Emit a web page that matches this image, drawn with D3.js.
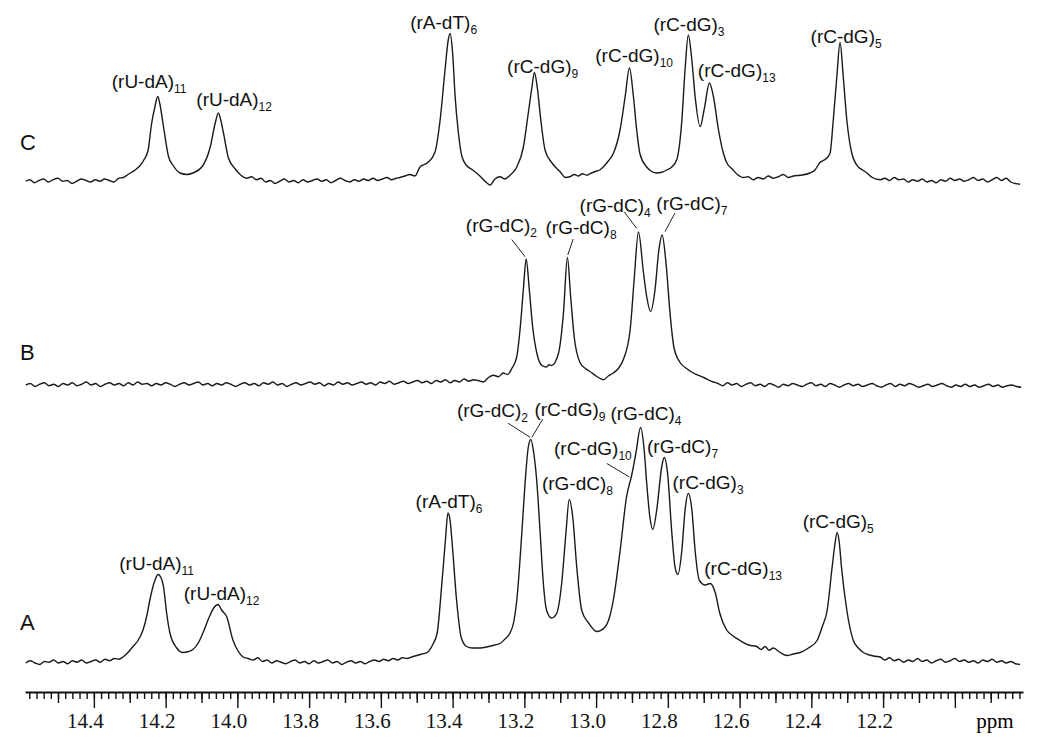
<!DOCTYPE html>
<html>
<head>
<meta charset="utf-8">
<script src="https://cdn.jsdelivr.net/npm/d3@7.9.0/dist/d3.min.js"></script>
<style>
  body { margin: 0; background: #fff; }
  svg { display: block; }
  .trace { fill: none; stroke: #1a1a1a; stroke-width: 1.4; stroke-linejoin: round; }
  .peak { font-family: "Liberation Sans", Arial, sans-serif; font-size: 19px; fill: #111; }
  .panel { font-family: "Liberation Sans", Arial, sans-serif; font-size: 22px; fill: #111; }
  .leader { stroke: #222; stroke-width: 1; }
  .axis text { font-family: "Liberation Serif", "Times New Roman", serif; font-size: 21px; fill: #111; }
  .axis line { stroke: #111; stroke-width: 1.4; }
  .axis path { stroke: #111; stroke-width: 2; }
</style>
</head>
<body>
<svg width="1050" height="750"></svg>
<script>
// spectra: [ppm, intensity (a.u.)]
const specC = [[14.590,0.5],[14.578,1.5],[14.566,-0.5],[14.553,1],[14.540,2],[14.527,0],[14.514,1.5],[14.500,2.5],[14.487,0.5],[14.474,1],[14.461,-1],[14.448,0.5],[14.435,2],[14.422,1],[14.409,0],[14.396,1.5],[14.383,0.5],[14.370,2],[14.357,1],[14.344,0],[14.331,2.5],[14.318,3],[14.305,5],[14.285,8],[14.271,11],[14.260,15],[14.249,21],[14.239,39],[14.230,50],[14.222,57],[14.216,52],[14.206,37],[14.192,17],[14.179,11],[14.160,6],[14.140,5],[14.124,6],[14.099,10],[14.076,23],[14.062,39],[14.053,46],[14.046,41],[14.039,33],[14.025,16],[14.007,9],[13.990,4.5],[13.974,2.5],
  [13.960,3.5],[13.947,1.5],[13.934,2.5],[13.921,0],[13.908,1],[13.895,-1],[13.882,0.5],[13.869,2],[13.856,0],[13.843,1],[13.830,-0.5],[13.817,1.5],[13.804,0],[13.791,1],[13.778,2],[13.765,0.5],[13.752,1.5],[13.739,-0.5],[13.726,1],[13.713,2.5],[13.700,1],[13.687,0],[13.674,1.5],[13.661,0.5],[13.648,2],[13.635,1],[13.622,2.5],[13.609,1],[13.596,2],[13.583,3],[13.570,1.5],[13.557,2.5],[13.547,3],[13.533,4],[13.519,5],[13.505,4],[13.491,10],[13.469,13],[13.449,20],[13.435,41],[13.421,75],[13.412,95],[13.407,99],[13.400,86],[13.393,57],[13.384,33],[13.374,17],[13.361,11],[13.344,8],[13.324,4],[13.305,-0.5],[13.296,-2],[13.282,2],[13.268,3.5],[13.254,2],[13.240,4.5],
  [13.221,10],[13.203,23],[13.189,46],[13.179,63],[13.172,73],[13.164,63],[13.154,41],[13.142,21],[13.124,13],[13.101,7],[13.085,3],[13.073,3.5],[13.060,5],[13.050,4],[13.038,5.5],[13.026,4.5],[13.013,6],[13.003,7],[12.990,8],[12.980,10],[12.966,14],[12.952,19],[12.933,35],[12.919,57],[12.907,76],[12.896,57],[12.887,35],[12.878,19],[12.859,10],[12.845,7],[12.831,6],[12.817,6.5],[12.803,8],[12.789,10],[12.775,15],[12.761,41],[12.752,75],[12.743,98],[12.733,81],[12.724,57],[12.710,37],[12.699,48],[12.684,66],[12.673,57],[12.659,35],[12.645,19],[12.634,12],[12.622,9],[12.606,5],[12.590,3],[12.576,3.5],[12.562,1.5],[12.548,3],[12.534,2],[12.520,4],[12.506,2.5],[12.492,3.5],[12.478,5],[12.464,3],[12.450,4],[12.431,4.5],[12.404,6],[12.390,8],[12.376,13],[12.362,15],[12.348,19],[12.339,41],[12.329,70],[12.320,93],[12.311,70],[12.301,41],[12.287,19],[12.269,10],[12.257,8],[12.245,6],[12.230,3],[12.208,1.5],
  [12.195,2.5],[12.182,1],[12.169,3],[12.156,1.5],[12.143,2],[12.130,0],[12.117,1.5],[12.104,0.5],[12.091,2],[12.078,0],[12.065,1],[12.052,-0.5],[12.039,1.5],[12.026,0.5],[12.013,2.5],[12.000,1],[11.987,2],[11.974,0.5],[11.961,1.5],[11.948,3],[11.935,1],[11.922,2],[11.909,0],[11.896,1.5],[11.883,3],[11.870,1],[11.857,2.5],[11.844,0],[11.831,-1],[11.818,-1.5]];

const specB = [[14.590,0],[14.577,1],[14.564,-1],[14.551,0.5],[14.538,1.5],[14.525,-0.5],[14.512,0.5],[14.499,-1],[14.486,1],[14.473,0],[14.460,1.5],[14.447,-0.5],[14.434,0.5],[14.421,2],[14.408,0],[14.395,1],[14.382,-1],[14.369,0.5],[14.356,1.5],[14.343,0],[14.330,1],[14.317,-0.5],[14.304,1.5],[14.291,0],[14.278,2],[14.265,0.5],[14.252,1],[14.239,-0.5],[14.226,1],[14.213,0],[14.200,1.5],[14.187,0.5],[14.174,-1],[14.161,0.5],[14.148,1.5],[14.135,0],[14.122,1],[14.109,2],[14.096,0],[14.083,1],[14.070,-0.5],[14.057,1],[14.044,0],[14.031,1.5],[14.018,0.5],[14.005,-1],[13.992,0.5],[13.979,1.5],[13.966,0],[13.953,1],[13.940,-0.5],[13.927,1.5],[13.914,0.5],[13.901,2],[13.888,0],[13.875,1],[13.862,-1],[13.849,0.5],[13.836,1.5],[13.823,0],[13.810,1],[13.797,2],[13.784,0.5],[13.771,1.5],[13.758,-0.5],[13.745,1],[13.732,0],[13.719,2],[13.706,0.5],[13.693,1.5],[13.680,0],[13.667,1],[13.654,2],[13.641,0.5],[13.628,1.5],[13.615,0],[13.602,2],[13.589,1],[13.576,2.5],[13.563,0.5],[13.550,1.5],[13.537,2.5],[13.524,1],[13.511,2],[13.498,3],[13.485,1.5],[13.472,2.5],[13.459,1],[13.446,3],[13.433,2],[13.420,3.5],[13.407,1.5],[13.394,3],[13.381,2],[13.368,4],[13.355,2.5],[13.342,3.5],[13.329,3],
  [13.314,2],[13.300,5],[13.286,6.5],[13.272,5.5],[13.259,8],[13.247,7],[13.235,11],[13.221,19],[13.212,37],[13.203,63],[13.195,84],[13.186,63],[13.177,39],[13.165,21],[13.151,13],[13.138,12],[13.131,13.5],[13.124,13],[13.105,21],[13.091,48],[13.080,85],[13.071,59],[13.061,32],[13.045,15],[13.030,11],[13.017,9],[13.000,6],[12.990,4.5],[12.980,3.5],[12.966,6],[12.952,8],[12.938,11],[12.924,17],[12.905,37],[12.894,70],[12.882,102],[12.868,75],[12.859,59],[12.848,49],[12.836,63],[12.825,90],[12.816,100],[12.805,81],[12.794,48],[12.783,25],[12.766,15],[12.748,11],[12.729,8],[12.700,5],[12.673,2],
  [12.660,1],[12.647,-0.5],[12.634,1.5],[12.621,0],[12.608,1],[12.595,-1],[12.582,0.5],[12.569,1.5],[12.556,-0.5],[12.543,0.5],[12.530,-1],[12.517,1],[12.504,0],[12.491,-1.5],[12.478,0.5],[12.465,-0.5],[12.452,1],[12.439,0],[12.426,-1],[12.413,0.5],[12.400,1.5],[12.387,-0.5],[12.374,0.5],[12.361,-1],[12.348,1],[12.335,0],[12.322,-1.5],[12.309,0],[12.296,1],[12.283,-0.5],[12.270,0.5],[12.257,-1],[12.244,0],[12.231,1],[12.218,-0.5],[12.205,-1.5],[12.192,0],[12.179,1],[12.166,-1],[12.153,0.5],[12.140,-0.5],[12.127,1],[12.114,0],[12.101,-1.5],[12.088,-0.5],[12.075,0.5],[12.062,-1],[12.049,0],[12.036,1],[12.023,-0.5],[12.010,-1.5],[11.997,0],[11.984,-1],[11.971,0.5],[11.958,-1],[11.945,0],[11.932,-1.5],[11.919,-0.5],[11.906,0.5],[11.893,-1],[11.880,0],[11.867,-1.5],[11.854,-0.5],[11.841,0],[11.828,-1],[11.815,-1.5]];

const specA = [[14.590,0],[14.577,1.5],[14.564,0],[14.551,-1],[14.538,1],[14.525,0.5],[14.512,2],[14.499,0],[14.486,1],[14.473,-0.5],[14.460,1.5],[14.447,0.5],[14.434,2],[14.421,0],[14.408,1],[14.395,2],[14.382,0.5],[14.369,2.5],[14.356,1.5],[14.343,3],[14.330,2.5],[14.319,4],[14.305,7],[14.291,11],[14.277,15],[14.263,22],[14.252,32],[14.244,42],[14.230,55],[14.221,59],[14.213,57],[14.206,51],[14.197,33],[14.188,20],[14.169,10],[14.152,7],[14.138,7.5],[14.124,9],[14.110,13],[14.096,20],[14.076,32],[14.065,37],[14.054,39],[14.043,35],[14.030,31],[14.012,15],[13.998,8],[13.984,4],[13.970,3],[13.956,2],
  [13.943,3.5],[13.930,1],[13.917,2],[13.904,0],[13.891,1.5],[13.878,0.5],[13.865,-0.5],[13.852,1],[13.839,2],[13.826,0],[13.813,1],[13.800,-0.5],[13.787,1.5],[13.774,0],[13.761,1],[13.748,2],[13.735,0],[13.722,1],[13.709,-1],[13.696,0.5],[13.683,1.5],[13.670,0],[13.657,1],[13.644,-0.5],[13.631,1],[13.618,2],[13.605,1],[13.592,2.5],[13.579,1.5],[13.566,3],[13.553,2],[13.540,3.5],[13.527,3],[13.514,4],[13.500,5],[13.485,6],[13.471,7],[13.456,12],[13.443,20],[13.430,53],[13.420,82],[13.413,100],[13.407,95],[13.402,82],[13.389,42],[13.376,17],[13.361,11],[13.345,10],[13.324,10],[13.300,11],[13.283,12],[13.268,13],[13.254,16],[13.240,20],[13.229,28],
  [13.221,42],[13.207,87],[13.198,120],[13.189,144],[13.182,149],[13.175,142],[13.165,120],[13.156,87],[13.147,53],[13.138,35],[13.124,30],[13.110,33],[13.096,53],[13.084,87],[13.075,109],[13.065,97],[13.054,64],[13.040,35],[13.022,27],[12.998,21],[12.975,24],[12.962,31],[12.952,42],[12.933,75],[12.915,111],[12.901,125],[12.889,140],[12.876,157],[12.866,142],[12.859,120],[12.850,97],[12.842,89],[12.831,102],[12.817,131],[12.810,137],[12.801,127],[12.789,87],[12.780,64],[12.772,59],[12.761,75],[12.752,102],[12.743,113],[12.733,102],[12.724,75],[12.712,55],[12.696,52],[12.682,53],[12.668,47],[12.655,33],[12.636,22],[12.618,18],[12.599,15],[12.575,12],[12.552,11],[12.540,9],[12.529,11],[12.518,8.5],[12.506,10],[12.487,7],[12.468,5],[12.450,6],[12.431,7],[12.408,10],[12.384,15],[12.370,24],[12.356,35],[12.342,64],[12.335,78],[12.328,87],[12.322,80],[12.316,64],[12.301,35],[12.283,15],[12.269,10],[12.255,7],[12.240,5.5],[12.222,4.5],[12.208,4],
  [12.195,2],[12.182,3.5],[12.169,1.5],[12.156,2.5],[12.143,0.5],[12.130,2],[12.117,1],[12.104,3],[12.091,1],[12.078,2],[12.065,0],[12.052,1.5],[12.039,2.5],[12.026,0.5],[12.013,1.5],[12.000,3],[11.987,1],[11.974,2],[11.961,0.5],[11.948,1.5],[11.935,0],[11.922,2],[11.909,1],[11.896,2.5],[11.883,0.5],[11.870,1.5],[11.857,0],[11.844,1],[11.831,-0.5],[11.818,-1]];

// peak assignments: text, subscript, ppm of label centre, a.u. of label baseline
const labelsC = [
  ["(rU-dA)", "11", 14.246, 63], ["(rU-dA)", "12", 14.009, 51], ["(rA-dT)", "6", 13.425, 102],
  ["(rC-dG)", "9", 13.149, 73], ["(rC-dG)", "10", 12.894, 80], ["(rC-dG)", "3", 12.741, 101],
  ["(rC-dG)", "13", 12.608, 70], ["(rC-dG)", "5", 12.303, 93]
];
const labelsB = [
  ["(rG-dC)", "2", 13.264, 102], ["(rG-dC)", "8", 13.042, 100.7],
  ["(rG-dC)", "4", 12.947, 115.3], ["(rG-dC)", "7", 12.733, 116.7]
];
const labelsA = [
  ["(rU-dA)", "11", 14.225, 62], ["(rU-dA)", "12", 14.044, 42], ["(rA-dT)", "6", 13.410, 103.3],
  ["(rG-dC)", "2", 13.289, 164], ["(rC-dG)", "9", 13.073, 164.7], ["(rG-dC)", "4", 12.861, 162],
  ["(rC-dG)", "10", 13.009, 138.7], ["(rG-dC)", "7", 12.759, 140], ["(rG-dC)", "8", 13.052, 115.3],
  ["(rC-dG)", "3", 12.688, 116], ["(rC-dG)", "13", 12.590, 58.7], ["(rC-dG)", "5", 12.325, 90]
];
// leader lines: [ppm1, au1, ppm2, au2]
const leadersB = [[13.235, 97, 13.198, 85.5], [13.064, 97.3, 13.079, 86.7], [12.922, 115.5, 12.887, 104.5], [12.780, 114.7, 12.808, 102.2]];
const leadersA = [[13.245, 159.8, 13.184, 150.5], [13.149, 162.5, 13.179, 150.5], [12.970, 133, 12.907, 124]];

const majorTicks = [14.4, 14.2, 14.0, 13.8, 13.6, 13.4, 13.2, 13.0, 12.8, 12.6, 12.4, 12.2, 12.0];
const midTicks = [14.5, 14.3, 14.1, 13.9, 13.7, 13.5, 13.3, 13.1, 12.9, 12.7, 12.5, 12.3, 12.1, 11.9];

const svg = d3.select('svg');
const x = d3.scaleLinear().domain([14.592, 11.81]).range([25, 1023]);

const traces = [
  { name: 'C', data: specC, labels: labelsC, leaders: [], y: d3.scaleLinear().domain([0, 100]).range([182, 32]), ly: 150 },
  { name: 'B', data: specB, labels: labelsB, leaders: leadersB, y: d3.scaleLinear().domain([0, 100]).range([385, 235]), ly: 360 },
  { name: 'A', data: specA, labels: labelsA, leaders: leadersA, y: d3.scaleLinear().domain([0, 100]).range([663, 513]), ly: 630 }
];

traces.forEach(t => {
  let line = d3.line().x(d => x(d[0])).y(d => t.y(d[1])).curve(d3.curveMonotoneX);
  svg.append('path').attr('class', 'trace').attr('d', line(t.data));

  svg.append('text').attr('class', 'panel').attr('x', 20).attr('y', t.ly).text(t.name);

  t.labels.forEach(l => {
    let txt = svg.append('text').attr('class', 'peak')
      .attr('x', x(l[2])).attr('y', t.y(l[3]))
      .attr('text-anchor', 'middle');
    txt.append('tspan').text(l[0]);
    txt.append('tspan').attr('font-size', 12).attr('dy', 5).text(l[1]);
  });

  t.leaders.forEach(k => {
    svg.append('line').attr('class', 'leader')
      .attr('x1', x(k[0])).attr('y1', t.y(k[1]))
      .attr('x2', x(k[2])).attr('y2', t.y(k[3]));
  });
});

// ppm axis: 0.02 minor, 0.1 medium, 0.2 major
const minorTicks = d3.range(0, 139).map(i => +(11.82 + i * 0.02).toFixed(2));
const axisY = 692;

svg.append('g').attr('class', 'axis').attr('transform', `translate(0,${axisY})`)
  .call(d3.axisBottom(x).tickValues(minorTicks).tickSize(7).tickSizeOuter(0).tickFormat(''));
svg.append('g').attr('class', 'axis').attr('transform', `translate(0,${axisY})`)
  .call(d3.axisBottom(x).tickValues(midTicks).tickSize(11).tickSizeOuter(0).tickFormat(''))
  .select('.domain').remove();
let major = svg.append('g').attr('class', 'axis').attr('transform', `translate(0,${axisY})`)
  .call(d3.axisBottom(x).tickValues(majorTicks).tickSize(16).tickSizeOuter(0).tickPadding(5)
    .tickFormat(d => d === 12.0 ? '' : d3.format('.1f')(d)));
major.select('.domain').remove();
major.selectAll('text').attr('dx', -9);

svg.append('text').attr('class', 'axis')
  .attr('x', 995).attr('y', 728).attr('text-anchor', 'middle')
  .style('font-family', '"Liberation Serif", "Times New Roman", serif').style('font-size', '21px')
  .text('ppm');
</script>
</body>
</html>
